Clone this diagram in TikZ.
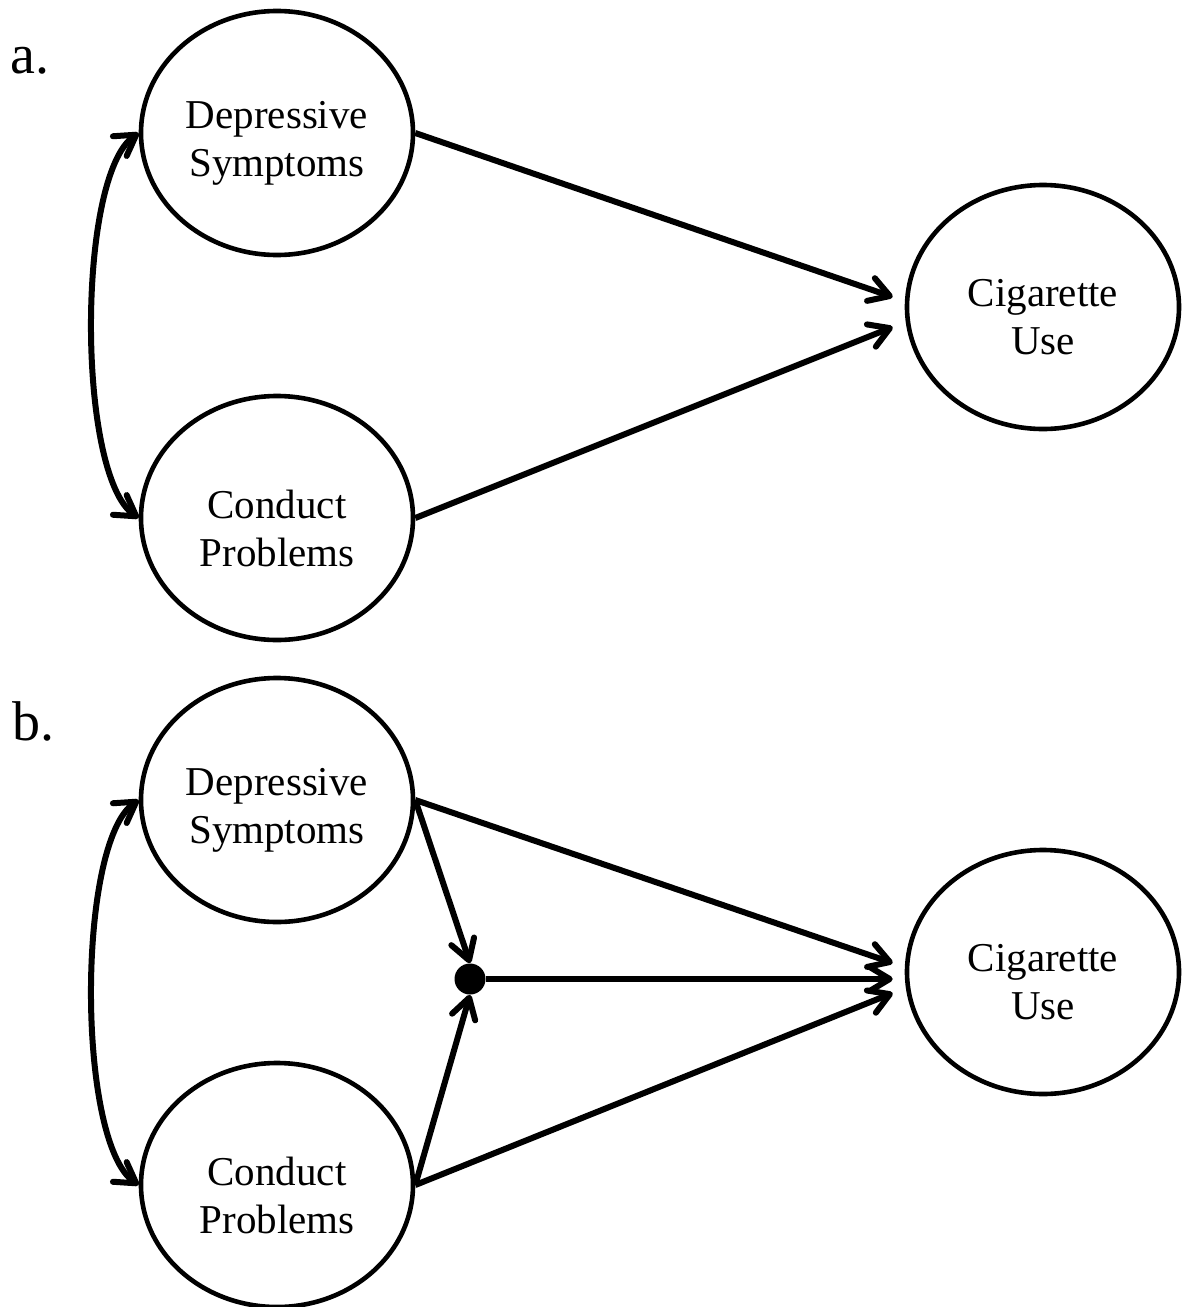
\documentclass[tikz,border=0pt]{standalone}
\usepackage{fontspec}
\setmainfont{Liberation Serif}
\usetikzlibrary{shapes.geometric,arrows.meta}
\begin{document}
\begin{tikzpicture}[x=0.5pt,y=-0.5pt,
  latent/.style={draw, ellipse, line width=2.3pt, minimum width=136pt, minimum height=122pt, inner sep=0pt},
  vtext/.style={align=center, font=\fontsize{20.5}{24}\selectfont, inner sep=0pt, yshift=-5pt},
  panel/.style={font=\fontsize{28}{30}\selectfont, anchor=base west, inner sep=0pt},
  barb/.tip={Straight Barb[length=10pt,width=12pt,round]},
  effect/.style={line width=3pt, -barb},
  cov/.style={line width=3pt, barb-barb},
  dotnode/.style={circle, fill=black, minimum size=15.5pt, inner sep=0pt}
]
\useasboundingbox (0,0) rectangle (1184,1307);

% panel a
\node[panel] (la) at (10,73) {a.};
\node[latent, label={[vtext]center:{Depressive\\Symptoms}}] (DSa) at (277,133) {};
\node[latent, label={[vtext]center:{Conduct\\Problems}}] (CPa) at (277,518) {};
\node[latent, label={[vtext]center:{Cigarette\\Use}}] (CUa) at (1043,307) {};
\draw[effect] (DSa.east) -- ([shift={(-12,-10)}]CUa.west);
\draw[effect] (CPa.east) -- ([shift={(-12,20)}]CUa.west);
\draw[cov] (DSa.west) .. controls ([shift={(-62,43)}]DSa.west) and ([shift={(-62,-43)}]CPa.west) .. (CPa.west);

% panel b
\node[panel] (lb) at (12,740) {b.};
\node[latent, label={[vtext]center:{Depressive\\Symptoms}}] (DSb) at (277,800) {};
\node[latent, label={[vtext]center:{Conduct\\Problems}}] (CPb) at (277,1185) {};
\node[latent, label={[vtext]center:{Cigarette\\Use}}] (CUb) at (1043,972) {};
\node[dotnode] (dot) at (470,979) {};
\draw[effect] (DSb.east) -- ([shift={(-12,-9)}]CUb.west);
\draw[effect] (CPb.east) -- ([shift={(-12,21)}]CUb.west);
\draw[effect] (dot.east) -- ([shift={(-12,7)}]CUb.west);
\draw[effect] (DSb.east) -- (dot.north);
\draw[effect] (CPb.east) -- (dot.south);
\draw[cov] (DSb.west) .. controls ([shift={(-62,43)}]DSb.west) and ([shift={(-62,-43)}]CPb.west) .. (CPb.west);
\end{tikzpicture}
\end{document}
